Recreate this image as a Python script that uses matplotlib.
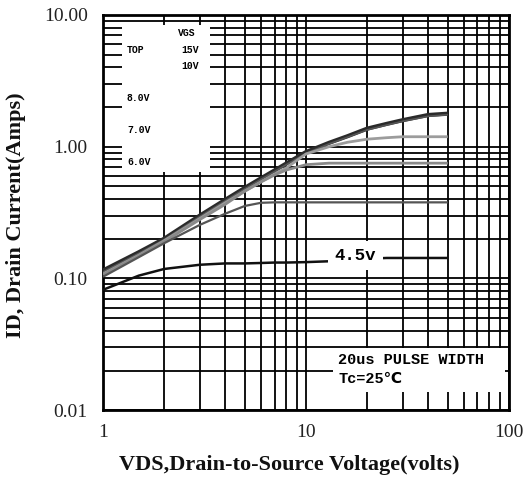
import numpy as np
import matplotlib
matplotlib.use('Agg')
import matplotlib.pyplot as plt
from matplotlib.patches import Rectangle

# VDS sample points (volts)
vds = [1, 1.5, 2, 3, 4, 5, 6, 7, 8, 10, 13, 16, 20, 25, 30, 40, 50]

# drain current (amps) for each VGS curve
id_15v = [0.115, 0.158, 0.200, 0.300, 0.395, 0.487, 0.575, 0.660, 0.745, 0.910, 1.07, 1.20, 1.37, 1.49, 1.59, 1.74, 1.78]
id_10v = [0.112, 0.155, 0.197, 0.295, 0.388, 0.478, 0.565, 0.648, 0.730, 0.890, 1.05, 1.18, 1.34, 1.46, 1.56, 1.70, 1.75]
id_8v = [0.108, 0.150, 0.193, 0.285, 0.375, 0.460, 0.540, 0.620, 0.690, 0.880, 1.00, 1.08, 1.14, 1.17, 1.19, 1.19, 1.19]
id_7v = [0.107, 0.148, 0.190, 0.280, 0.365, 0.460, 0.540, 0.610, 0.665, 0.730, 0.750, 0.750, 0.750, 0.750, 0.750, 0.750, 0.750]
id_6v = [0.103, 0.145, 0.185, 0.255, 0.310, 0.355, 0.375, 0.378, 0.378, 0.378, 0.378, 0.378, 0.378, 0.378, 0.378, 0.378, 0.378]
id_45v = [0.082, 0.105, 0.118, 0.127, 0.130, 0.130, 0.131, 0.132, 0.132, 0.133, 0.135, 0.138, 0.141, 0.143, 0.143, 0.143, 0.143]

curves = [
    (id_15v, '#2a2a2a', 3.0),
    (id_10v, '#555555', 1.2),
    (id_8v, '#9c9c9c', 2.0),
    (id_7v, '#8a8a8a', 2.0),
    (id_6v, '#555555', 1.6),
    (id_45v, '#111111', 1.8),
]

legend_rows = [('VGS', None, 0.954), ('TOP', '15V', 0.911), ('', '10V', 0.871),
               ('8.0V', None, 0.790), ('7.0V', None, 0.709), ('6.0V', None, 0.628)]

x_ticks = [1, 10, 100]
x_tick_labels = ['1', '10', '100']
y_ticks = [0.01, 0.1, 1, 10]
y_tick_labels = ['0.01', '0.10', '1.00', '10.00']

mono = ['Liberation Mono', 'DejaVu Sans Mono', 'DejaVu Sans']
serif = ['Liberation Serif', 'DejaVu Serif']

fig = plt.figure(figsize=(5.23, 4.82), dpi=100)
ax = fig.add_axes([0.197, 0.149, 0.776, 0.820])
ax.set_xscale('log')
ax.set_yscale('log')
ax.set_xlim(1, 100)
ax.set_ylim(0.01, 10)

ax.grid(True, which='both', color='black', linewidth=1.3)
ax.set_axisbelow(True)
for s in ax.spines.values():
    s.set_linewidth(2)

ax.set_xticks(x_ticks)
ax.set_xticklabels(x_tick_labels)
ax.set_yticks(y_ticks)
ax.set_yticklabels(y_tick_labels)
ax.tick_params(which='both', length=0, labelsize=14)
ax.tick_params(axis='x', pad=10)
ax.tick_params(axis='y', pad=11)
for lab in ax.get_xticklabels() + ax.get_yticklabels():
    lab.set_family(serif)
    lab.set_color('#222222')

for ys, col, lw in curves:
    ax.plot(vds, ys, color=col, linewidth=lw, zorder=3, solid_capstyle='butt')

# white boxes that hide the grid behind the annotations
ax.add_patch(Rectangle((0.047, 0.603), 0.217, 0.372, transform=ax.transAxes,
                       facecolor='white', edgecolor='none', zorder=2))
ax.add_patch(Rectangle((0.567, 0.046), 0.423, 0.111, transform=ax.transAxes,
                       facecolor='white', edgecolor='none', zorder=2))

for left, right, yy in legend_rows:
    if left == 'VGS':
        ax.text(0.207, yy, left, transform=ax.transAxes, fontsize=7, weight='bold',
                family=mono, ha='center', va='center', zorder=4)
        continue
    if left:
        ax.text(0.059, yy, left, transform=ax.transAxes, fontsize=7, weight='bold',
                family=mono, ha='left', va='center', zorder=4)
    if right:
        ax.text(0.214, yy, right, transform=ax.transAxes, fontsize=7, weight='bold',
                family=mono, ha='center', va='center', zorder=4)

ax.text(17.5, 0.15, '4.5v', fontsize=12.5, weight='bold', family=mono,
        ha='center', va='center', zorder=4,
        bbox=dict(facecolor='white', edgecolor='none', pad=5))

ax.text(0.579, 0.127, '20us PULSE WIDTH', transform=ax.transAxes, fontsize=11,
        weight='bold', family=mono, ha='left', va='center', zorder=4)
ax.text(0.579, 0.078, 'Tc=25℃', transform=ax.transAxes, fontsize=11,
        weight='bold', family=mono, ha='left', va='center', zorder=4)

ax.set_xlabel('VDS,Drain-to-Source Voltage(volts)', fontsize=16, family=serif,
              weight='bold', color='#111111')
ax.xaxis.set_label_coords(0.46, -0.113)
ax.set_ylabel('ID, Drain Current(Amps)', fontsize=16, family=serif,
              weight='bold', color='#111111')
ax.yaxis.set_label_coords(-0.19, 0.494)

fig.savefig('out.png', dpi=100)
